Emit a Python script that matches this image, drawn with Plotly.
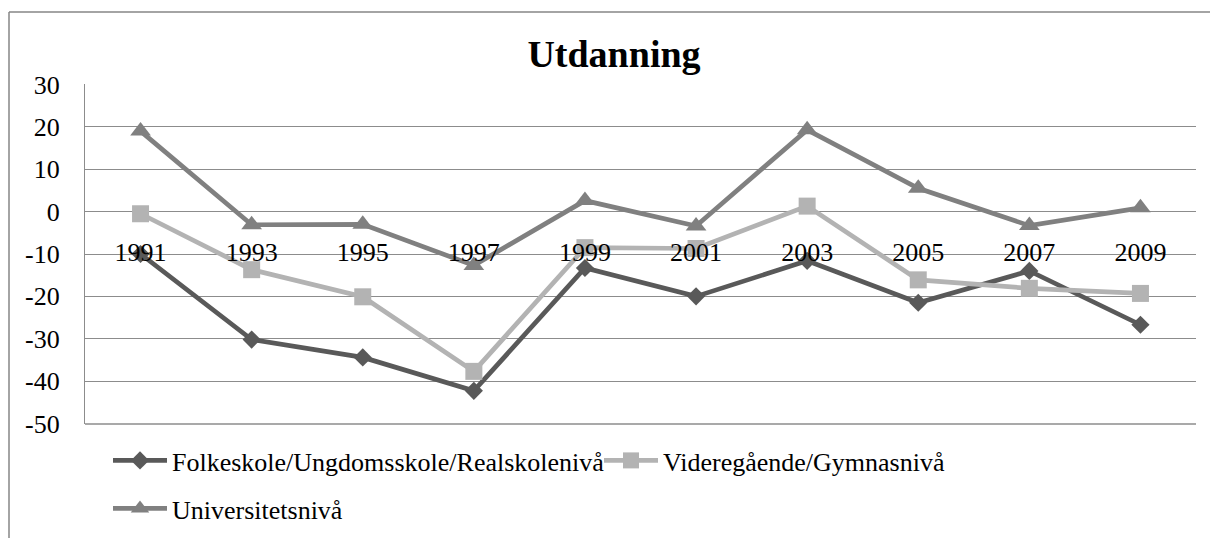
import plotly.graph_objects as go

years = ["1991", "1993", "1995", "1997", "1999", "2001", "2003", "2005", "2007", "2009"]
folkeskole = [-10.0, -30.2, -34.4, -42.3, -13.3, -20.0, -11.6, -21.5, -14.0, -26.7]
videregaende = [-0.5, -13.7, -20.1, -37.7, -8.5, -8.7, 1.3, -16.1, -18.1, -19.3]
universitet = [19.0, -3.1, -3.0, -12.7, 2.6, -3.4, 19.3, 5.5, -3.3, 0.9]
y_ticks = [30, 20, 10, 0, -10, -20, -30, -40, -50]

names = ["Folkeskole/Ungdomsskole/Realskolenivå", "Videregående/Gymnasnivå", "Universitetsnivå"]
colors = ["#595959", "#b3b3b3", "#808080"]
symbols = ["diamond", "square", "triangle-up"]
sizes = [14, 17, 18]
legend_ids = ["legend", "legend", "legend2"]

FONT = "Liberation Serif"
GRID = "#8c8c8c"

fig = go.Figure()
for vals, name, col, sym, sz, lg in zip([folkeskole, videregaende, universitet], names, colors, symbols, sizes, legend_ids):
    fig.add_trace(go.Scatter(
        x=years, y=vals, name=name, mode="lines+markers",
        line=dict(color=col, width=4.7),
        marker=dict(symbol=sym, size=sz, color=col, line=dict(width=0)),
        legend=lg,
    ))

W, H = 1210, 538
L, R, T, B = 85, 14, 84, 114
pw, ph = W - L - R, H - T - B

def px_x(x):
    return (x - L) / pw

def px_y(y):
    return (H - B - y) / ph

leg_common = dict(orientation="h", xanchor="left", yanchor="top",
                  font=dict(family=FONT, size=26, color="black"),
                  itemwidth=54, entrywidth=422, entrywidthmode="pixels",
                  bgcolor="rgba(0,0,0,0)", traceorder="normal")

fig.update_layout(
    width=W, height=H,
    margin=dict(l=L, r=R, t=T, b=B, autoexpand=False),
    paper_bgcolor="white", plot_bgcolor="white",
    font=dict(family=FONT, size=26, color="black"),
    title=dict(text="<b>Utdanning</b>", x=614 / W, xanchor="center",
               y=1 - 54 / H, yanchor="middle", xref="container", yref="container",
               font=dict(family=FONT, size=38, color="black")),
    xaxis=dict(type="category", categoryorder="array", categoryarray=years,
               range=[-0.5, len(years) - 0.5], anchor="free", position=px_y(233.5),
               showgrid=False, showline=False, zeroline=False, ticks="", automargin=False,
               tickfont=dict(family=FONT, size=26, color="black")),
    yaxis=dict(range=[-50.12, 30.12], tickvals=y_ticks, ticktext=[str(v) for v in y_ticks],
               showgrid=True, gridcolor=GRID, gridwidth=1.3,
               zeroline=True, zerolinecolor=GRID, zerolinewidth=1.3,
               showline=True, linecolor=GRID, linewidth=1.3,
               ticks="", ticklabelstandoff=19, automargin=False,
               tickfont=dict(family=FONT, size=26, color="black")),
    showlegend=True,
    legend=dict(x=px_x(108), y=px_y(437), **leg_common),
    legend2=dict(x=px_x(108), y=px_y(485), **leg_common),
    shapes=[
        dict(type="line", xref="paper", yref="paper", x0=px_x(9), x1=px_x(1215),
             y0=px_y(12), y1=px_y(12), line=dict(color="#868686", width=1.5)),
        dict(type="line", xref="paper", yref="paper", x0=px_x(9), x1=px_x(9),
             y0=px_y(12), y1=px_y(545), line=dict(color="#868686", width=1.5)),
        dict(type="line", xref="paper", yref="paper", x0=0, x1=1, y0=0, y1=0,
             line=dict(color=GRID, width=1.3), layer="below"),
    ],
)

fig.write_html("out.html", config={"displayModeBar": False},
               post_script="document.body.style.margin='0';document.body.style.overflow='hidden';")
